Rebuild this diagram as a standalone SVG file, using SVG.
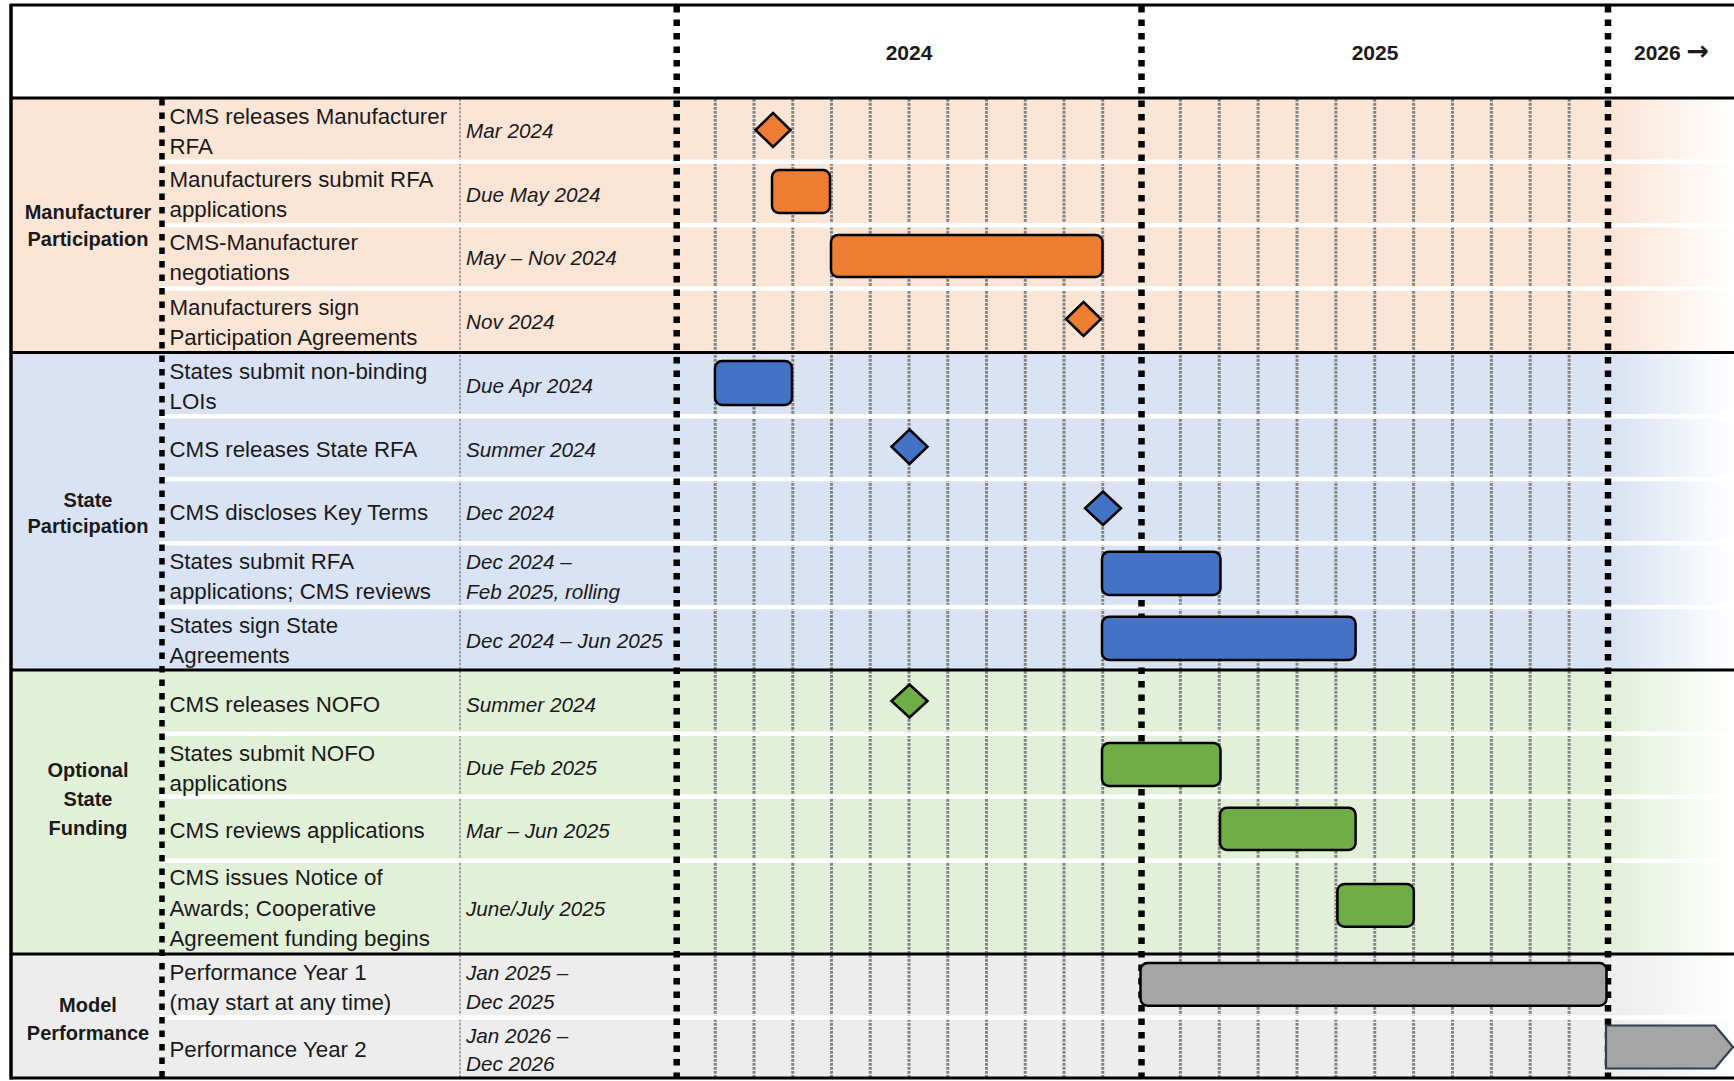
<svg xmlns="http://www.w3.org/2000/svg" width="1734" height="1081" viewBox="0 0 1734 1081">
<defs>
<linearGradient id="gO" gradientUnits="userSpaceOnUse" x1="1615" y1="0" x2="1734" y2="0"><stop offset="0" stop-color="#FBE5D6"/><stop offset="1" stop-color="#FFFFFF"/></linearGradient>
<linearGradient id="gB" gradientUnits="userSpaceOnUse" x1="1615" y1="0" x2="1734" y2="0"><stop offset="0" stop-color="#DAE3F3"/><stop offset="1" stop-color="#FFFFFF"/></linearGradient>
<linearGradient id="gG" gradientUnits="userSpaceOnUse" x1="1615" y1="0" x2="1734" y2="0"><stop offset="0" stop-color="#E2F0D9"/><stop offset="1" stop-color="#FFFFFF"/></linearGradient>
<linearGradient id="gK" gradientUnits="userSpaceOnUse" x1="1615" y1="0" x2="1734" y2="0"><stop offset="0" stop-color="#EDEDED"/><stop offset="1" stop-color="#FFFFFF"/></linearGradient>
</defs>
<style>
.t{font-family:"Liberation Sans",Arial,sans-serif;font-size:22.3px;fill:#1a1a1a}
.d{font-family:"Liberation Sans",Arial,sans-serif;font-size:20.7px;font-style:italic;fill:#1a1a1a}
.c{font-family:"Liberation Sans",Arial,sans-serif;font-size:20px;font-weight:bold;fill:#1a1a1a;text-anchor:middle}
.yr{font-family:"Liberation Sans","DejaVu Sans",Arial,sans-serif;font-size:21px;font-weight:bold;fill:#1a1a1a}
.ar{font-family:"DejaVu Sans",sans-serif;font-size:27px;font-weight:bold}
.m{stroke:#828282;stroke-width:3;stroke-dasharray:2.7 1.3;fill:none}
.dc{stroke:#959595;stroke-width:1.8;stroke-dasharray:2.5 1.5;fill:none}
.wb{fill:#FFFFFF}
.yl{stroke:#000;stroke-width:6.5;stroke-dasharray:6.5 7;fill:none}
.cl{stroke:#000;stroke-width:5.5;stroke-dasharray:6.5 7;fill:none}
.hl{stroke:#000;stroke-width:3;fill:none}
.bar{stroke:#000;stroke-width:2.5}
.or{fill:#ED7D31}.bl{fill:#4472C4}.gr{fill:#70AD47}.gy{fill:#A5A5A5}
</style>
<rect x="0" y="0" width="1734" height="1081" fill="#FFFFFF"/>
<g id="backgrounds">
<rect x="10" y="98" width="1724" height="255" fill="url(#gO)"/>
<rect x="10" y="353" width="1724" height="317" fill="url(#gB)"/>
<rect x="10" y="670" width="1724" height="284" fill="url(#gG)"/>
<rect x="10" y="954" width="1724" height="124" fill="url(#gK)"/>
</g>
<g id="grid">
<g class="m">
<line x1="715.25" y1="99" x2="715.25" y2="1077"/>
<line x1="754" y1="99" x2="754" y2="1077"/>
<line x1="792.75" y1="99" x2="792.75" y2="1077"/>
<line x1="831.5" y1="99" x2="831.5" y2="1077"/>
<line x1="870.25" y1="99" x2="870.25" y2="1077"/>
<line x1="909" y1="99" x2="909" y2="1077"/>
<line x1="947.75" y1="99" x2="947.75" y2="1077"/>
<line x1="986.5" y1="99" x2="986.5" y2="1077"/>
<line x1="1025.25" y1="99" x2="1025.25" y2="1077"/>
<line x1="1064" y1="99" x2="1064" y2="1077"/>
<line x1="1102.75" y1="99" x2="1102.75" y2="1077"/>
<line x1="1180.4" y1="99" x2="1180.4" y2="1077"/>
<line x1="1219.25" y1="99" x2="1219.25" y2="1077"/>
<line x1="1258.1" y1="99" x2="1258.1" y2="1077"/>
<line x1="1297" y1="99" x2="1297" y2="1077"/>
<line x1="1335.9" y1="99" x2="1335.9" y2="1077"/>
<line x1="1374.75" y1="99" x2="1374.75" y2="1077"/>
<line x1="1413.6" y1="99" x2="1413.6" y2="1077"/>
<line x1="1452.5" y1="99" x2="1452.5" y2="1077"/>
<line x1="1491.4" y1="99" x2="1491.4" y2="1077"/>
<line x1="1530.2" y1="99" x2="1530.2" y2="1077"/>
<line x1="1569.1" y1="99" x2="1569.1" y2="1077"/>
</g>
<line class="dc" x1="460" y1="99" x2="460" y2="1077"/>
<g class="wb">
<rect x="159" y="159.5" width="1575" height="4.5"/>
<rect x="159" y="223" width="1575" height="4.5"/>
<rect x="159" y="286.3" width="1575" height="4.5"/>
<rect x="159" y="414" width="1575" height="4.5"/>
<rect x="159" y="476.8" width="1575" height="4.5"/>
<rect x="159" y="541" width="1575" height="4.5"/>
<rect x="159" y="604.8" width="1575" height="4.5"/>
<rect x="159" y="731.5" width="1575" height="4.5"/>
<rect x="159" y="794.5" width="1575" height="4.5"/>
<rect x="159" y="858.5" width="1575" height="4.5"/>
<rect x="159" y="1015.3" width="1575" height="4.5"/>
</g>
<line class="cl" x1="162" y1="99" x2="162" y2="1077"/>
<line class="yl" x1="676.7" y1="6" x2="676.7" y2="1077"/>
<line class="yl" x1="1141.5" y1="6" x2="1141.5" y2="1077"/>
<line class="yl" x1="1608" y1="6" x2="1608" y2="1077"/>
<line class="hl" x1="10" y1="5" x2="1734" y2="5"/>
<line class="hl" x1="10" y1="98" x2="1734" y2="98"/>
<line class="hl" x1="10" y1="352.5" x2="1734" y2="352.5"/>
<line class="hl" x1="10" y1="670" x2="1734" y2="670"/>
<line class="hl" x1="10" y1="954" x2="1734" y2="954"/>
<line class="hl" x1="10" y1="1078" x2="1734" y2="1078"/>
<line class="hl" x1="11" y1="4" x2="11" y2="1079.5" style="stroke-width:3.5"/>
</g>
<g id="header">
<text class="yr" x="909" y="60" text-anchor="middle">2024</text>
<text class="yr" x="1375" y="60" text-anchor="middle">2025</text>
<text class="yr" x="1634" y="60">2026 <tspan class="ar">→</tspan></text>
</g>
<g id="section-manufacturer">
<text class="c" x="88" y="219">Manufacturer</text>
<text class="c" x="88" y="246">Participation</text>
</g>
<g id="task-cms-releases-manufacturer-rfa">
<text class="t" x="169.5" y="124">CMS releases Manufacturer</text>
<text class="t" x="169.5" y="154">RFA</text>
<text class="d" x="466" y="137.5">Mar 2024</text>
<polygon class="bar or" points="773,113 790.5,130 773,147 755.5,130"/>
</g>
<g id="task-manufacturers-submit-rfa">
<text class="t" x="169.5" y="186.5">Manufacturers submit RFA</text>
<text class="t" x="169.5" y="216.5">applications</text>
<text class="d" x="466" y="202">Due May 2024</text>
<rect class="bar or" x="772" y="170" width="58" height="43" rx="7"/>
</g>
<g id="task-cms-manufacturer-negotiations">
<text class="t" x="169.5" y="250">CMS-Manufacturer</text>
<text class="t" x="169.5" y="280">negotiations</text>
<text class="d" x="466" y="265">May – Nov 2024</text>
<rect class="bar or" x="831" y="235" width="271.5" height="42" rx="7"/>
</g>
<g id="task-manufacturers-sign">
<text class="t" x="169.5" y="314.5">Manufacturers sign</text>
<text class="t" x="169.5" y="344.5">Participation Agreements</text>
<text class="d" x="466" y="328.5">Nov 2024</text>
<polygon class="bar or" points="1083.5,302 1101,319 1083.5,336 1066,319"/>
</g>
<g id="section-state">
<text class="c" x="88" y="506.5">State</text>
<text class="c" x="88" y="533">Participation</text>
</g>
<g id="task-states-submit-lois">
<text class="t" x="169.5" y="378.5">States submit non-binding</text>
<text class="t" x="169.5" y="408.5">LOIs</text>
<text class="d" x="466" y="392.5">Due Apr 2024</text>
<rect class="bar bl" x="715" y="361" width="77" height="44" rx="7"/>
</g>
<g id="task-cms-releases-state-rfa">
<text class="t" x="169.5" y="456.5">CMS releases State RFA</text>
<text class="d" x="466" y="456.5">Summer 2024</text>
<polygon class="bar bl" points="909.5,429.5 927.5,446.7 909.5,464 891.5,446.7"/>
</g>
<g id="task-cms-discloses-key-terms">
<text class="t" x="169.5" y="519.5">CMS discloses Key Terms</text>
<text class="d" x="466" y="519.5">Dec 2024</text>
<polygon class="bar bl" points="1103,491.5 1121,508.3 1103,525 1085,508.3"/>
</g>
<g id="task-states-submit-rfa">
<text class="t" x="169.5" y="568.5">States submit RFA</text>
<text class="t" x="169.5" y="598.5">applications; CMS reviews</text>
<text class="d" x="466" y="568.5">Dec 2024 –</text>
<text class="d" x="466" y="598.5">Feb 2025, rolling</text>
<rect class="bar bl" x="1102" y="551.7" width="118.5" height="43.3" rx="7"/>
</g>
<g id="task-states-sign-agreements">
<text class="t" x="169.5" y="632.5">States sign State</text>
<text class="t" x="169.5" y="662.5">Agreements</text>
<text class="d" x="466" y="647.5">Dec 2024 – Jun 2025</text>
<rect class="bar bl" x="1102" y="616.7" width="253.6" height="43.3" rx="7"/>
</g>
<g id="section-funding">
<text class="c" x="88" y="777">Optional</text>
<text class="c" x="88" y="805.5">State</text>
<text class="c" x="88" y="835">Funding</text>
</g>
<g id="task-cms-releases-nofo">
<text class="t" x="169.5" y="711.5">CMS releases NOFO</text>
<text class="d" x="466" y="711.5">Summer 2024</text>
<polygon class="bar gr" points="909.5,684.5 927.5,701 909.5,717.5 891.5,701"/>
</g>
<g id="task-states-submit-nofo">
<text class="t" x="169.5" y="761">States submit NOFO</text>
<text class="t" x="169.5" y="791">applications</text>
<text class="d" x="466" y="774.5">Due Feb 2025</text>
<rect class="bar gr" x="1102" y="743" width="118.5" height="43" rx="7"/>
</g>
<g id="task-cms-reviews-applications">
<text class="t" x="169.5" y="837.5">CMS reviews applications</text>
<text class="d" x="466" y="837.5">Mar – Jun 2025</text>
<rect class="bar gr" x="1220" y="807.7" width="135.6" height="42.3" rx="7"/>
</g>
<g id="task-notice-of-awards">
<text class="t" x="169.5" y="885">CMS issues Notice of</text>
<text class="t" x="169.5" y="915.5">Awards; Cooperative</text>
<text class="t" x="169.5" y="946">Agreement funding begins</text>
<text class="d" x="466" y="916">June/July 2025</text>
<rect class="bar gr" x="1337.4" y="884" width="76.4" height="42.7" rx="7"/>
</g>
<g id="section-performance">
<text class="c" x="88" y="1011.5">Model</text>
<text class="c" x="88" y="1039.5">Performance</text>
</g>
<g id="task-performance-year-1">
<text class="t" x="169.5" y="980">Performance Year 1</text>
<text class="t" x="169.5" y="1010">(may start at any time)</text>
<text class="d" x="466" y="979.5">Jan 2025 –</text>
<text class="d" x="466" y="1008.5">Dec 2025</text>
<rect class="bar gy" x="1140.5" y="963" width="466" height="42.7" rx="7"/>
</g>
<g id="task-performance-year-2">
<text class="t" x="169.5" y="1056.5">Performance Year 2</text>
<text class="d" x="466" y="1042.5">Jan 2026 –</text>
<text class="d" x="466" y="1070.5">Dec 2026</text>
<polygon class="gy" points="1606,1025.5 1715,1025.5 1733,1047 1715,1068.5 1606,1068.5" stroke="#333F50" stroke-width="2.2"/>
</g>
<g id="connectors"/>
</svg>
